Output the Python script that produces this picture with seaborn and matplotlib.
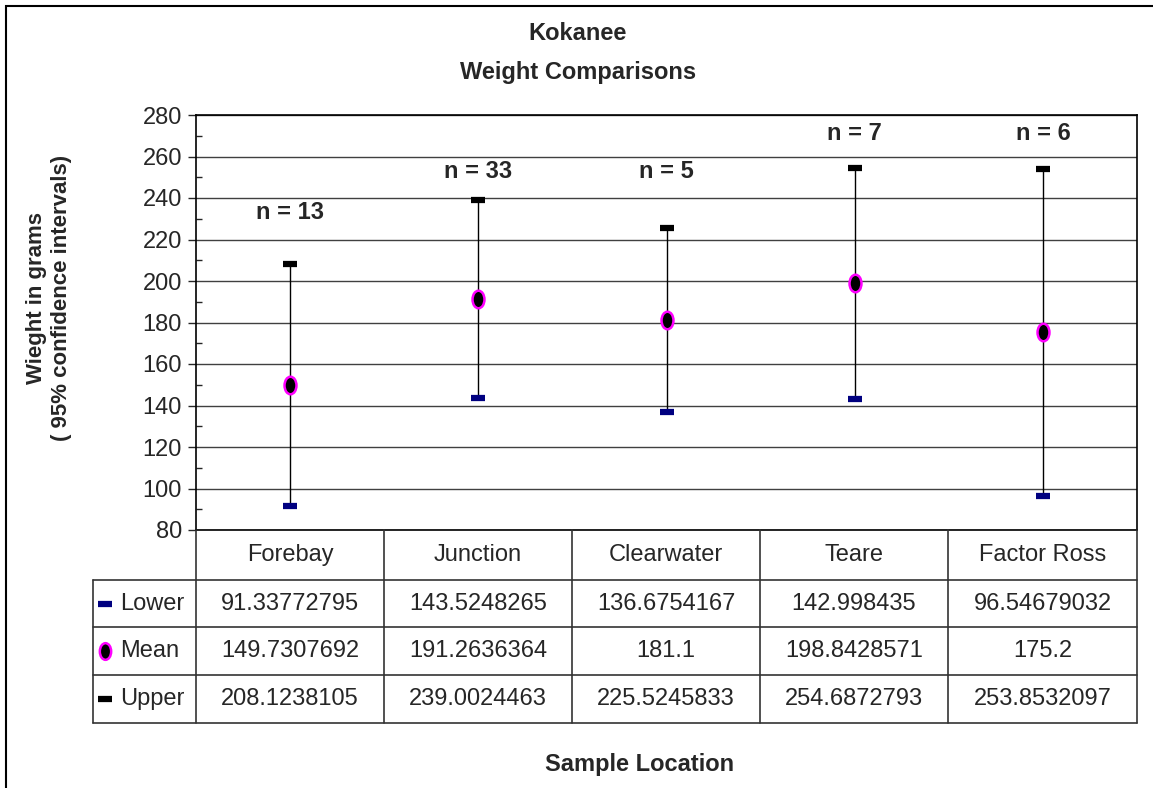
"""
Kokanee weight comparisons: high-low-mean chart with a data table underneath
"""
import numpy as np
import matplotlib
matplotlib.use('Agg')
import matplotlib.pyplot as plt
from matplotlib.path import Path
from matplotlib.lines import Line2D
from matplotlib.patches import Rectangle
import seaborn as sns

# data
locations = ['Forebay', 'Junction', 'Clearwater', 'Teare', 'Factor Ross']
lower = [91.33772795, 143.5248265, 136.6754167, 142.998435, 96.54679032]
mean = [149.7307692, 191.2636364, 181.1, 198.8428571, 175.2]
upper = [208.1238105, 239.0024463, 225.5245833, 254.6872793, 253.8532097]
n_labels = ['n = 13', 'n = 33', 'n = 5', 'n = 7', 'n = 6']
n_label_y = [233, 253, 253, 271, 271]
lower_txt = ['91.33772795', '143.5248265', '136.6754167', '142.998435', '96.54679032']
mean_txt = ['149.7307692', '191.2636364', '181.1', '198.8428571', '175.2']
upper_txt = ['208.1238105', '239.0024463', '225.5245833', '254.6872793', '253.8532097']

sns.set_style('white')
plt.rcParams['font.family'] = ['Liberation Sans', 'DejaVu Sans']

W, H = 1153, 788
fig = plt.figure(figsize=(W / 100, H / 100), dpi=100)
# plot area in pixels: x 196..1137, y 115..530
L, R, T, B = 196, 1137, 115, 530
ax = fig.add_axes([L / W, 1 - B / H, (R - L) / W, (B - T) / H])

xpos = np.arange(len(locations))

# vertical range lines
ax.vlines(xpos, lower, upper, color='black', lw=1, zorder=2)

# ellipse marker for mean
circ = Path.unit_circle()
ell = Path(circ.vertices * np.array([0.68, 1.0]), circ.codes)

sns.scatterplot(x=xpos, y=lower, marker='_', s=110, color='#000080',
                linewidth=4.5, ax=ax, zorder=3, legend=False)
sns.scatterplot(x=xpos, y=upper, marker='_', s=110, color='black',
                linewidth=4.5, ax=ax, zorder=3, legend=False)
sns.scatterplot(x=xpos, y=mean, marker=ell, s=160, color='black',
                edgecolor='#ff00ff', linewidth=1.8, ax=ax, zorder=4, legend=False)

for i, lab in enumerate(n_labels):
    ax.text(xpos[i], n_label_y[i], lab, ha='center', va='center',
            fontsize=17, fontweight='bold')

ax.set_xlim(-0.5, len(locations) - 0.5)
ax.set_ylim(80, 280)
ax.set_yticks(np.arange(80, 281, 20))
ax.set_yticks(np.arange(90, 281, 20), minor=True)
ax.set_xticks([])
ax.set_xlabel('')
ax.set_ylabel('')
ax.grid(axis='y', which='major', color='#404040', lw=1)
ax.tick_params(axis='y', which='major', direction='out', length=6, width=1,
               labelsize=17, pad=4, left=True)
ax.tick_params(axis='y', which='minor', direction='in', length=4, width=1, left=True)
for s in ax.spines.values():
    s.set_color('black')
    s.set_linewidth(1.2)

# data table below the axes (pixel layout converted to figure fraction)
def fx(px):
    return px / W

def fy(py):
    return 1 - py / H

col_edges = [196, 384, 572, 760, 948, 1137]
row_edges = [530, 580, 627, 675, 723]
table_left = 93
lc = '#333333'
for x in col_edges:
    fig.add_artist(Line2D([fx(x), fx(x)], [fy(530), fy(723)], color=lc, lw=1.2))
fig.add_artist(Line2D([fx(table_left), fx(table_left)], [fy(580), fy(723)], color=lc, lw=1.2))
for y in row_edges[1:]:
    fig.add_artist(Line2D([fx(table_left), fx(1137)], [fy(y), fy(y)], color=lc, lw=1.2))

for i, loc in enumerate(locations):
    cx = (col_edges[i] + col_edges[i + 1]) / 2
    fig.text(fx(cx), fy(555), loc, ha='center', va='center', fontsize=17)
    fig.text(fx(cx), fy(604), lower_txt[i], ha='center', va='center', fontsize=17)
    fig.text(fx(cx), fy(651), mean_txt[i], ha='center', va='center', fontsize=17)
    fig.text(fx(cx), fy(699), upper_txt[i], ha='center', va='center', fontsize=17)

# legend keys inside the table
fig.add_artist(Line2D([fx(105)], [fy(604)], marker='_', ms=10, mew=4.5, color='#000080'))
fig.add_artist(Line2D([fx(105)], [fy(651)], marker=ell, ms=12, mew=1.8,
                      markerfacecolor='black', markeredgecolor='#ff00ff', lw=0))
fig.add_artist(Line2D([fx(105)], [fy(699)], marker='_', ms=10, mew=4.5, color='black'))
fig.text(fx(120), fy(604), 'Lower', ha='left', va='center', fontsize=17)
fig.text(fx(120), fy(651), 'Mean', ha='left', va='center', fontsize=17)
fig.text(fx(120), fy(699), 'Upper', ha='left', va='center', fontsize=17)

# titles and axis labels
fig.text(0.501, fy(33), 'Kokanee', ha='center', va='center', fontsize=17, fontweight='bold')
fig.text(0.501, fy(72), 'Weight Comparisons', ha='center', va='center', fontsize=17, fontweight='bold')
fig.text(fx(640), fy(764), 'Sample Location', ha='center', va='center', fontsize=17, fontweight='bold')
fig.text(fx(49), fy(298), 'Wieght in grams\n( 95% confidence intervals)', rotation=90,
         ha='center', va='center', multialignment='center', fontsize=16,
         fontweight='bold', linespacing=1.2)

# outer chart border (only top and left edges show)
fig.add_artist(Rectangle((fx(6), -0.05), 1.2, fy(6) + 0.05, fill=False,
                         edgecolor='black', lw=1.5))

plt.savefig('out.png', dpi=100)
plt.close()
